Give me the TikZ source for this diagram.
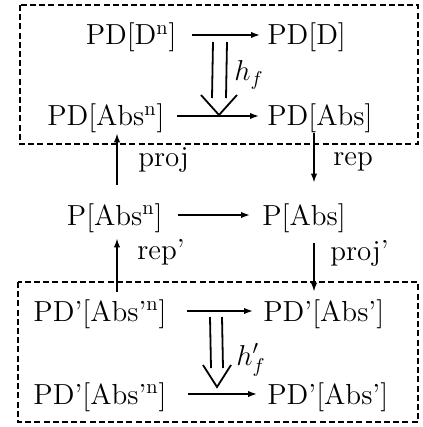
\documentclass[tikz,border=0pt]{standalone}
\usetikzlibrary{arrows.meta,calc}
\begin{document}
\begin{tikzpicture}[x=0.5pt,y=-0.5pt,
  obj/.style={font=\fontsize{14.5}{17}\selectfont, inner sep=0pt, text height=10pt, text depth=0pt},
  lbl/.style={font=\fontsize{14.5}{17}\selectfont, inner sep=0pt, anchor=base west},
  arr/.style={line width=0.75pt, -{Latex[length=4.5pt,width=3.2pt]}},
  frame/.style={line width=0.9pt, dash pattern=on 3pt off 1.6pt},
  dbl/.style={line width=0.9pt, line join=miter}]
\useasboundingbox (0,0) rectangle (422,427);

% dashed frames
\draw[frame] (20,5) rectangle (418,144);
\draw[frame] (18,282) rectangle (418,422);

% objects
\node[obj,anchor=east] (a1) at (177,35) {PD[D\textsuperscript{n}]};
\node[obj,anchor=west] (a2) at (267,35) {PD[D]};
\node[obj,anchor=east] (b1) at (165,116) {PD[Abs\textsuperscript{n}]};
\node[obj,anchor=west] (b2) at (267,116) {PD[Abs]};
\node[obj,anchor=east] (c1) at (163,215) {P[Abs\textsuperscript{n}]};
\node[obj,anchor=west] (c2) at (262,215) {P[Abs]};
\node[obj,anchor=east] (d1) at (167,311) {PD'[Abs'\textsuperscript{n}]};
\node[obj,anchor=west] (d2) at (263,311) {PD'[Abs']};
\node[obj,anchor=east] (e1) at (167,394) {PD'[Abs'\textsuperscript{n}]};
\node[obj,anchor=west] (e2) at (267,394) {PD'[Abs']};

% horizontal maps
\draw[arr, shorten <=7.5pt, shorten >=3.5pt] (a1.east) -- (a2.west);
\draw[arr, shorten <=6pt, shorten >=4pt] (b1.east) -- (b2.west);
\draw[arr, shorten <=7.5pt, shorten >=6pt] (c1.east) -- (c2.west);
\draw[arr, shorten <=10pt, shorten >=5pt] (d1.east) -- (d2.west);
\draw[arr, shorten <=10.5pt, shorten >=5pt] (e1.east) -- (e2.west);

% vertical maps
\coordinate (colL) at (117,0);
\coordinate (colR) at (314,0);
\draw[arr, shorten <=10pt, shorten >=3.5pt] (c1.north -| colL) -- (b1.south -| colL);
\draw[arr, shorten <=3.5pt, shorten >=11pt] (b2.south -| colR) -- (c2.north -| colR);
\draw[arr, shorten <=4.5pt, shorten >=6.5pt] (d1.north -| colL) -- (c1.south -| colL);
\draw[arr, shorten <=9pt, shorten >=4.5pt] (c2.south -| colR) -- (d2.north -| colR);
\node[lbl] (lproj) at (138,167) {proj};
\node[lbl] (lrep) at (333,165) {rep};
\node[lbl] (lrepp) at (137,259) {rep'};
\node[lbl] (lprojp) at (330,260) {proj'};

% double arrow h_f
\coordinate (hs) at (220,42);
\coordinate (ht) at (219,115);
\draw[dbl] ($(hs)+(-7,0)$) -- ($(ht)+(-7,-17)$);
\draw[dbl] ($(hs)+(7,0)$) -- ($(ht)+(7,-17)$);
\draw[dbl] ($(ht)+(-18,-20)$) -- (ht) -- ($(ht)+(18,-20)$);
\node[lbl] (lhf) at (234,81) {$h_f$};

% double arrow h'_f
\coordinate (hs2) at (216,317);
\coordinate (ht2) at (217,387);
\draw[dbl] ($(hs2)+(-6,0)$) -- ($(ht2)+(-6,-19)$);
\draw[dbl] ($(hs2)+(6,0)$) -- ($(ht2)+(6,-19)$);
\draw[dbl] ($(ht2)+(-14,-22)$) -- (ht2) -- ($(ht2)+(14,-22)$);
\node[lbl] (lhfp) at (236,365) {$h'_f$};
\end{tikzpicture}
\end{document}
